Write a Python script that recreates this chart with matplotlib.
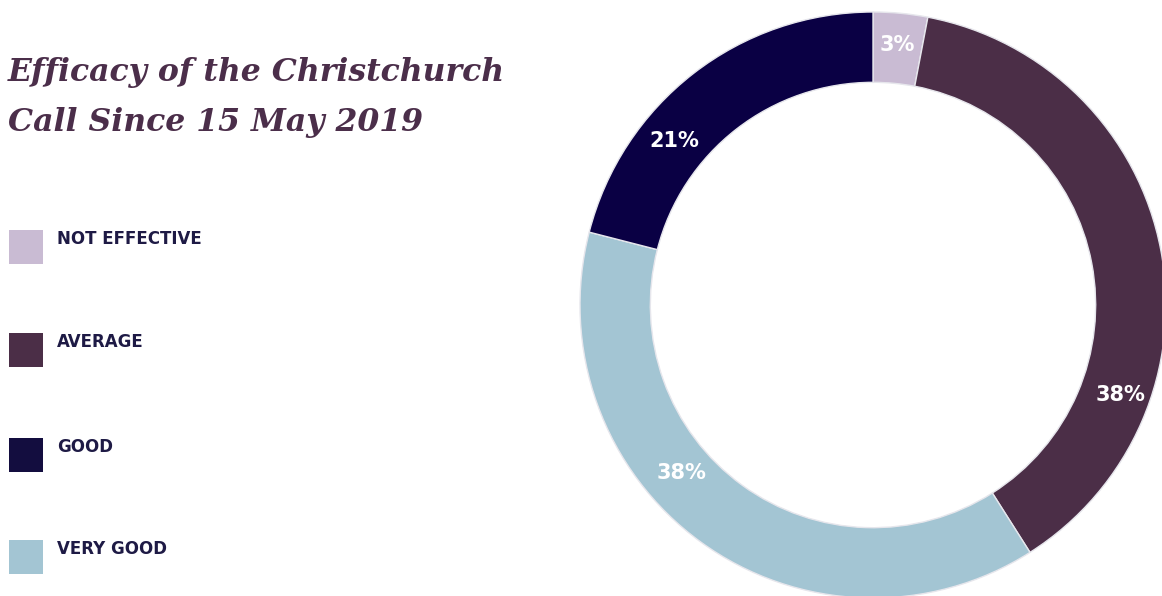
import numpy as np
import matplotlib.pyplot as plt
from matplotlib.patches import Rectangle

# data
categories = ["NOT EFFECTIVE", "AVERAGE", "VERY GOOD", "GOOD"]
shares = [3, 38, 38, 21]
colors = ["#C9BBD3", "#4B2E47", "#A3C5D3", "#0A0044"]

legend_order = ["NOT EFFECTIVE", "AVERAGE", "GOOD", "VERY GOOD"]
legend_colors = ["#C9BBD3", "#4B2E47", "#130D3F", "#A3C5D3"]

# where the % labels sit (degrees clockwise from top, radius in pie units)
label_angles = [5.3, 110, 228.7, 309.6]
label_radius = [0.89, 0.90, 0.87, 0.88]

W, H = 1162, 596
fig = plt.figure(figsize=(W / 100, H / 100), dpi=100)
fig.patch.set_facecolor("white")

# donut: centre (873, 305) px, outer radius 293 px
cx, cy, R = 873, 305, 293
ax = fig.add_axes([(cx - R) / W, (H - cy - R) / H, 2 * R / W, 2 * R / H])
ax.pie(shares, colors=colors, startangle=90, counterclock=False, radius=1,
       wedgeprops=dict(width=0.24, edgecolor="#E6E6EC", linewidth=1.0))
ax.set_xlim(-1, 1)
ax.set_ylim(-1, 1)
ax.set_aspect("equal")
ax.axis("off")

for s, a, r in zip(shares, label_angles, label_radius):
    t = np.deg2rad(a)
    ax.text(r * np.sin(t), r * np.cos(t), f"{s}%", color="white",
            fontsize=15, fontweight="bold", ha="center", va="center",
            family="DejaVu Sans")

# title
fig.text(8 / W, 1 - 81 / H, "Efficacy of the Christchurch", color="#4B2E4A",
         fontsize=22.7, fontweight="bold", style="italic", family="DejaVu Serif",
         ha="left", va="baseline")
fig.text(8 / W, 1 - 131 / H, "Call Since 15 May 2019", color="#4B2E4A",
         fontsize=22.7, fontweight="bold", style="italic", family="DejaVu Serif",
         ha="left", va="baseline")

# legend
rows = [247, 350, 455, 557]
for lab, col, y in zip(legend_order, legend_colors, rows):
    fig.add_artist(Rectangle((9 / W, 1 - (y + 17) / H), 34 / W, 34 / H,
                             transform=fig.transFigure, facecolor=col,
                             edgecolor="none"))
    fig.text(57 / W, 1 - (y - 8) / H, lab, color="#1E1A45", fontsize=12,
             fontweight="bold", family="DejaVu Sans", ha="left", va="center")

fig.savefig("out.png", dpi=100)
